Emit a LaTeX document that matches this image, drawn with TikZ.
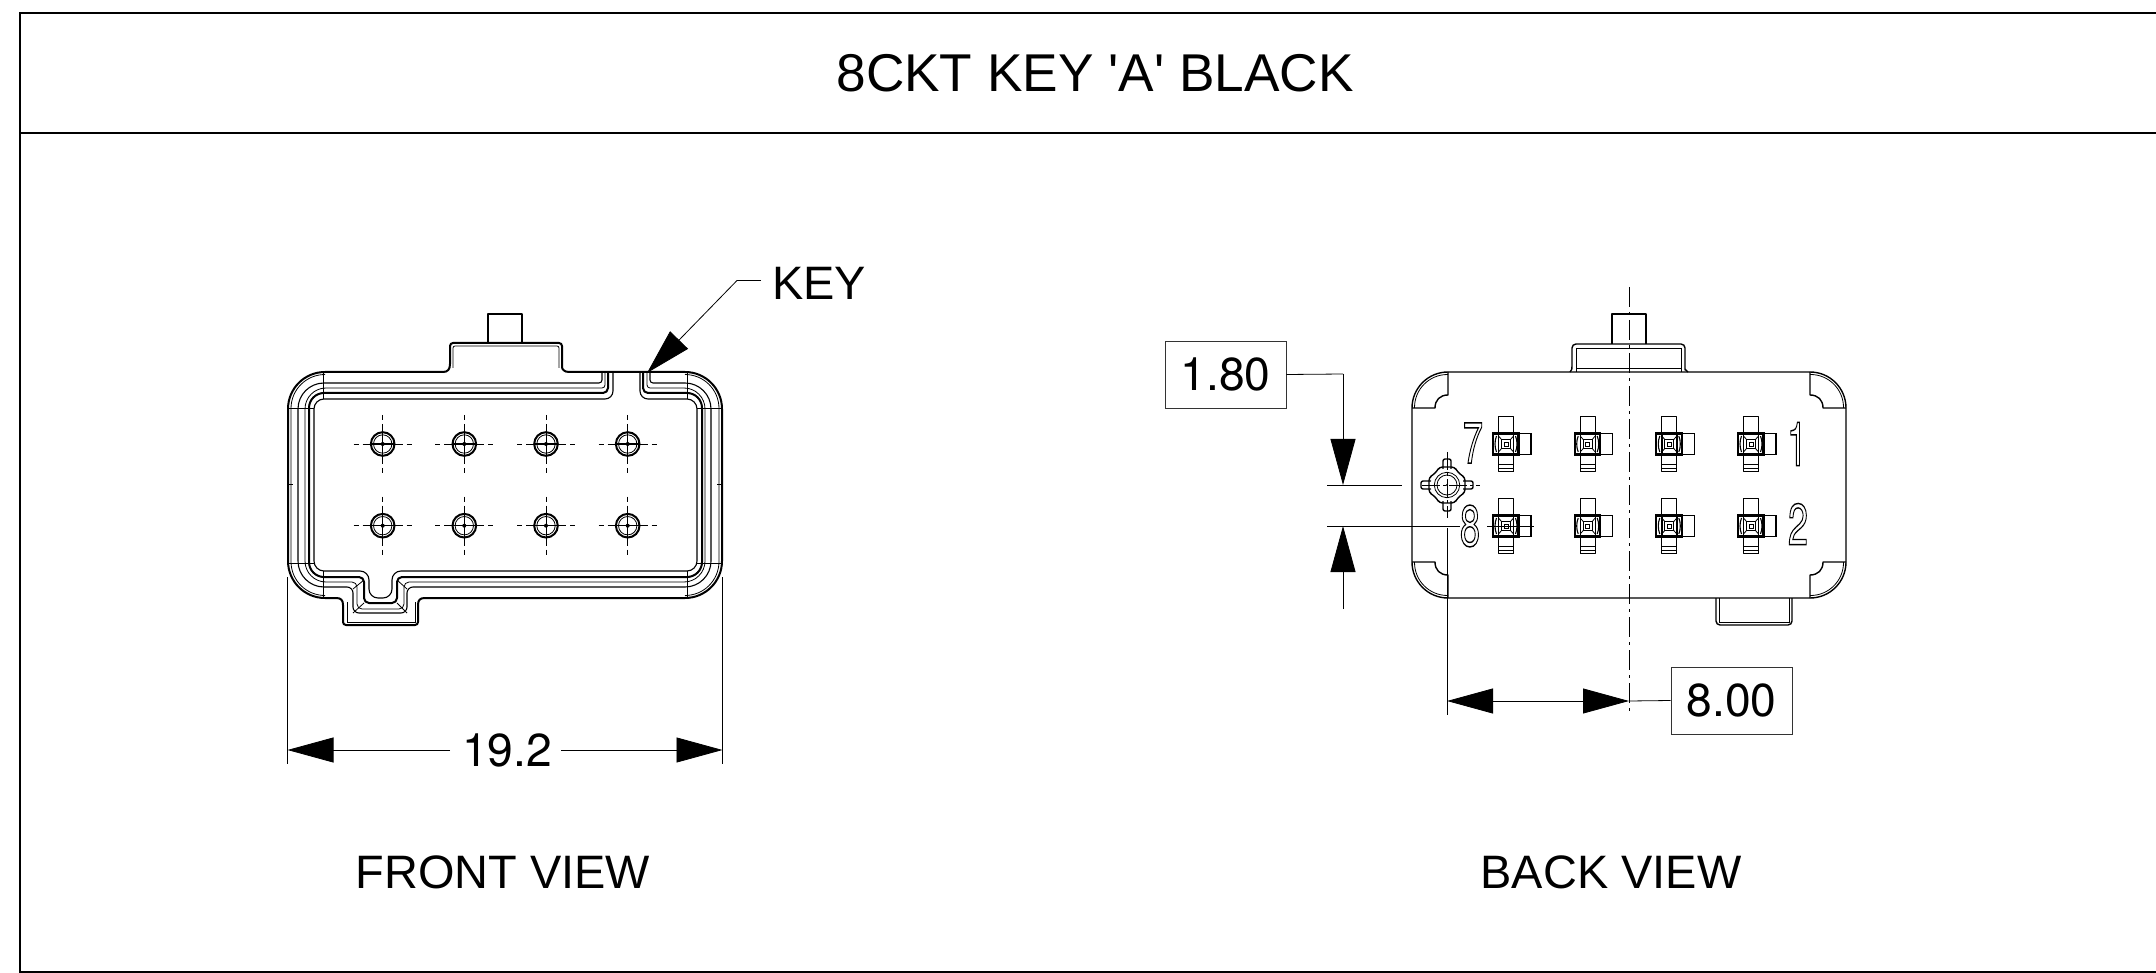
\documentclass[tikz,border=0pt]{standalone}
\usepackage{fontspec}
\setmainfont{TeX Gyre Heros}
\newfontfamily\arialish{Liberation Sans}
\usetikzlibrary{arrows.meta}
\newcommand{\outl}[1]{\special{pdf:code 1 Tr 1.4 w}#1\special{pdf:code 0 Tr}}
\tikzset{
  frame/.style={line width=1.3pt,black},
  part/.style={line width=1.4pt,black,line join=round},
  mid/.style={line width=1.1pt,black,line join=round},
  heavy/.style={line width=2pt,black,line join=round},
  fine/.style={line width=0.8pt,black},
  dimline/.style={line width=0.8pt,black},
  axisl/.style={line width=0.9pt,black,dash pattern=on 20pt off 5pt on 3pt off 5pt},
  bigtip/.style={-{Triangle[length=46pt,width=25pt]}},
  lbl/.style={font=\fontsize{46.2pt}{48pt}\selectfont,inner sep=0pt},
  viewlbl/.style={font=\arialish\fontsize{46.9pt}{48pt}\selectfont,inner sep=0pt},
  dimbox/.style={draw=black!80,line width=0.8pt,minimum width=121pt,minimum height=67pt,font=\fontsize{46.2pt}{48pt}\selectfont,inner sep=0pt},
  pinno/.style={font=\fontsize{58pt}{60pt}\selectfont,inner sep=0pt,transform shape},
}
\begin{document}
\begin{tikzpicture}[x=1pt,y=-1pt]
\useasboundingbox (0,0) rectangle (2156,973);
% frame
\coordinate (fTL) at (20,13); \coordinate (fTR) at (2156,13);
\coordinate (fML) at (20,133); \coordinate (fMR) at (2156,133);
\coordinate (fBL) at (20,972); \coordinate (fBR) at (2156,972);
\draw[frame] (fTR) -- (fTL) -- (fBL) -- (fBR);
\draw[frame] (fML) -- (fMR);
\node[font=\arialish\fontsize{53.2pt}{54pt}\selectfont,inner sep=0pt] (title) at (1095,73) {8CKT KEY \symbol{39}A\symbol{39} BLACK};

%%%%%%%%%% FRONT VIEW
% pin
\draw[part] (488,343) -- (488,314) -- (522,314) -- (522,343);
% outer contour
\draw[heavy] (450,364)
  [rounded corners=3pt] -- (450,343) -- (562,343) -- (562,364)
  [sharp corners] .. controls (562,369) and (564,372) .. (569,372)
  [rounded corners=37pt] -- (722,372) -- (722,598)
  [sharp corners] -- (425,598) .. controls (420,598) and (418,600) .. (418,605)
  [rounded corners=3pt] -- (418,625) -- (343,625)
  [sharp corners] -- (343,605) .. controls (343,600) and (341,598) .. (336,598)
  [rounded corners=37pt] -- (288,598) -- (288,372)
  [sharp corners] -- (443,372) .. controls (448,372) and (450,369) .. (450,364);
% tab double lines
\draw[fine] (453,368) [rounded corners=2pt] -- (453,346) -- (559,346) -- (559,368);
\draw[fine] (347,602) -- (347,622) -- (415,622) -- (415,602);
% second outer line, sides only
\draw[fine,rounded corners=34pt] (323,374.5) -- (291,374.5) -- (291,595.5) -- (323,595.5);
\draw[fine,rounded corners=34pt] (687,374.5) -- (719,374.5) -- (719,595.5) -- (687,595.5);
% nested contours with the two notches
\draw[mid] (602,372) [rounded corners=3pt] -- (602,383) [rounded corners=26pt] -- (298,383) -- (298,587) [rounded corners=6pt] -- (353,587) -- (353,613) -- (407,613) -- (407,587) [rounded corners=26pt] -- (711,587) -- (711,383) [rounded corners=3pt] -- (650,383) -- (650,372);
\draw[fine] (605,372) [rounded corners=3pt] -- (605,388) [rounded corners=21pt] -- (305,388) -- (305,582) [rounded corners=5pt] -- (357,582) -- (357,609) -- (404,609) -- (404,582) [rounded corners=21pt] -- (705,582) -- (705,388) [rounded corners=3pt] -- (647,388) -- (647,372);
\draw[heavy] (608,372) [rounded corners=5pt] -- (608,393) [rounded corners=15pt] -- (309,393) -- (309,577) [rounded corners=5pt] -- (364,577) -- (364,603) -- (397,603) -- (397,577) [rounded corners=15pt] -- (702,577) -- (702,393) [rounded corners=5pt] -- (643,393) -- (643,372);
\draw[mid] (613,372) [rounded corners=8pt] -- (613,399) [rounded corners=10pt] -- (314,399) -- (314,571) [rounded corners=9pt] -- (369,571) -- (369,598) -- (392,598) -- (392,571) [rounded corners=10pt] -- (697,571) -- (697,399) [rounded corners=8pt] -- (640,399) -- (640,372);
% key channel corner facets
\draw[fine] (364,603) -- (353,613) (397,603) -- (407,613) (364,580) -- (353,589) (397,580) -- (407,589);
% corner tangent lines
\foreach \xx in {323,687}{\draw[fine] (\xx,372) -- (\xx,399); \draw[fine] (\xx,571) -- (\xx,598);}
\foreach \yy in {408,563}{\draw[fine] (288,\yy) -- (314,\yy); \draw[fine] (697,\yy) -- (722,\yy);}
\draw[fine] (287,484) -- (293,484); \draw[fine] (717,484) -- (723,484);
% contacts
\foreach \yy in {444,525.7}{\foreach \xx in {382.7,464.3,546,627.7}{
  \begin{scope}[shift={(\xx,\yy)}]
   \draw[line width=2pt] (0,0) circle[radius=11.8pt];
   \draw[fine] (0,0) circle[radius=9.2pt];
   \draw[line width=1.5pt] (-12,0) -- (12,0);
   \fill (0,0) circle[radius=2pt];
   \draw[fine] (-29,0) -- (-24,0) (-20,0) -- (-12,0) (12,0) -- (20,0) (24,0) -- (29,0);
   \draw[fine] (0,-29) -- (0,-24) (0,-20) -- (0,20) (0,24) -- (0,29);
  \end{scope}}}
% KEY leader
\node[viewlbl,anchor=west] (keylbl) at (772,283) {KEY};
\coordinate (keyk) at (737,280.5);
\coordinate (keytip) at (647,373);
\draw[dimline] (keylbl.west) ++(-11,-2.5) -- (keyk);
\draw[dimline,bigtip] (keyk) -- (keytip);
% 19.2
\node[lbl] (d192) at (507,750.5) {19.2};
\coordinate (extL) at (287.5,750); \coordinate (extR) at (722.5,750);
\draw[dimline] (287.5,577) -- (287.5,764);
\draw[dimline] (722.5,577) -- (722.5,764);
\draw[dimline,bigtip] (450,750) -- (extL);
\draw[dimline,bigtip] (561,750) -- (extR);
\node[viewlbl] (fv) at (503,872) {FRONT VIEW};

%%%%%%%%%% BACK VIEW
\draw[part] (1612,344) -- (1612,314) -- (1646,314) -- (1646,344);
\draw[part] (1570,372) .. controls (1572,371) and (1572,368) .. (1572,366) [rounded corners=4pt] -- (1572,344) -- (1685,344) -- (1685,366) [sharp corners] .. controls (1685,368) and (1686,371) .. (1688,372);
\draw[fine] (1576,372) -- (1576,348) -- (1681,348) -- (1681,372) (1576,368) -- (1681,368);
\draw[part] (1716,598) [rounded corners=4pt] -- (1716,625) -- (1792,625) -- (1792,598);
\draw[fine] (1719,598) -- (1719,622) -- (1789,622) -- (1789,598);
% body
\draw[part,rounded corners=36pt] (1629,372) -- (1846,372) -- (1846,598) -- (1412,598) -- (1412,372) -- cycle;
% corners
\foreach \sx/\sy in {1/1,-1/1,1/-1,-1/-1}{
 \begin{scope}[shift={(1629,485)},xscale=\sx,yscale=\sy]
  \draw[part] (-181,-113) -- (-181,-90) .. controls (-189,-90) and (-194,-85) .. (-194,-77) -- (-217,-77);
  \draw[fine,rounded corners=33pt] (-214.5,-77) -- (-214.5,-110.5) -- (-181,-110.5);
 \end{scope}}
% terminals
\foreach \yy in {444,526}{\foreach \xx in {1506,1587.7,1669.3,1751}{
 \begin{scope}[shift={(\xx,\yy)}]
  \draw[mid] (-7.5,-27.5) rectangle (7.5,27.5);
  \draw[fine] (-7.5,20) -- (7.5,20) (-7.5,24) -- (7.5,24);
  \draw[line width=1.6pt] (-7.5,27.5) -- (7.5,27.5);
  \fill[white] (-13,-10.5) rectangle (12.5,10.5);
  \draw[line width=2.2pt] (-13,-10.5) rectangle (12.5,10.5);
  \draw[line width=1.4pt] (12.5,-10.5) rectangle (25,10.5);
  \draw[line width=1.4pt] (-7.5,-10.5) -- (-7.5,10.5) (7.5,-10.5) -- (7.5,10.5);
  \draw[line width=1.2pt] (-4.5,-4.5) rectangle (4.5,4.5);
  \draw[fine] (-2,-2) rectangle (2,2);
  \draw[fine] (-4.5,-4.5) -- (-7.5,-8) (4.5,-4.5) -- (7.5,-8) (-4.5,4.5) -- (-7.5,8) (4.5,4.5) -- (7.5,8);
  \draw[line width=1.1pt] (-9.5,-8) .. controls (-11.5,-3) and (-11.5,3) .. (-9.5,8);
  \draw[line width=1.1pt] (9.5,-8) .. controls (11.5,-3) and (11.5,3) .. (9.5,8);
 \end{scope}}}
% polarising post
\begin{scope}[shift={(1447,485)}]
 \draw[part,rounded corners=2pt] (-4,-16) -- (-4,-26) -- (4,-26) -- (4,-16);
 \draw[part,rounded corners=2pt] (-4,16) -- (-4,26) -- (4,26) -- (4,16);
 \draw[part,rounded corners=2pt] (-16,-4) -- (-26,-4) -- (-26,4) -- (-16,4);
 \draw[part,rounded corners=2pt] (16,-4) -- (26,-4) -- (26,4) -- (16,4);
 \fill[white] (0,0) circle[radius=16pt];
 \draw[part,rounded corners=3pt] (-7.5,-18) -- (7.5,-18) -- (10,-14) -- (14,-10) -- (18,-7.5) -- (18,7.5) -- (14,10) -- (10,14) -- (7.5,18) -- (-7.5,18) -- (-10,14) -- (-14,10) -- (-18,7.5) -- (-18,-7.5) -- (-14,-10) -- (-10,-14) -- cycle;
 \draw[fine] (0,0) circle[radius=12.7pt];
 \draw[fine] (0,0) circle[radius=10pt];
 \fill (0,0) circle[radius=1.2pt];
 \draw[fine,dash pattern=on 18pt off 3pt on 3pt off 3pt] (-25,0) -- (33,0);
 \draw[fine,dash pattern=on 18pt off 3pt on 3pt off 3pt] (0,-33) -- (0,33);
\end{scope}
% pin numbers
\node[pinno,xscale=0.62] (n7) at (1473,443) {\outl{7}};
\node[pinno,xscale=0.62] (n8) at (1470,526) {\outl{8}};
\node[pinno,xscale=0.62,yscale=1.05] (n1) at (1797,444) {\outl{1}};
\node[pinno,xscale=0.62] (n2) at (1798,524) {\outl{2}};
% centre axis
\coordinate (axT) at (1629,287); \coordinate (axB) at (1629,714);
\draw[axisl] (axT) -- (axB);
% 1.80
\node[dimbox,text depth=-1pt] (b180) at (1225.5,374.5) {1.80};
\coordinate (dk) at (1343,374); \coordinate (dtipA) at (1343,485); \coordinate (dtipB) at (1343,526); \coordinate (dend) at (1343,609);
\draw[dimline] (b180.east) -- (dk);
\draw[dimline,bigtip] (dk) -- (dtipA);
\draw[dimline,bigtip] (dend) -- (dtipB);
\draw[dimline] (1327,485) -- (1402,485);
\draw[dimline] (1327,526) -- (1460,526) (1487,526) -- (1534,526);
% 8.00
\node[dimbox,text depth=-1pt] (b800) at (1731.5,700.5) {8.00};
\coordinate (eL) at (1447,701); \coordinate (eR) at (1629,701);
\draw[dimline] (1447,528) -- (1447,715);
\draw[dimline,bigtip] (1538,701) -- (eL);
\draw[dimline,bigtip] (1538,701) -- (eR);
\draw[dimline] (eR) -- (b800.west);
\node[viewlbl] (bv) at (1611,872) {BACK VIEW};
\end{tikzpicture}
\end{document}
